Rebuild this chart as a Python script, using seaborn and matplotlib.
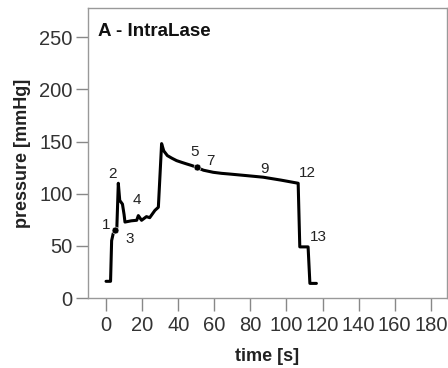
import matplotlib
matplotlib.use("Agg")
import matplotlib.pyplot as plt
import seaborn as sns

# data
time_s = [0, 2.5, 3.1, 4.0, 5.0, 6.0, 6.8, 7.6, 9.1, 10.0, 10.5, 14.0, 17.0, 17.9, 19.7, 22.4, 24.2, 27.1,
          29.0, 30.8, 32.0, 34.0, 36.5, 39.1, 42.0, 44.7, 47.5, 50.2, 54.0, 59.4, 64.0, 68.7, 78.0,
          87.1, 97.0, 106.5, 107.4, 112.0, 113.0, 116.6]
pressure = [16, 16, 55, 62, 65, 68, 110, 93.5, 90, 80, 72.8, 74, 74.5, 79, 74.5, 78, 77, 84,
            87, 148, 141, 136.5, 134, 131.7, 130, 128.5, 127, 125.3, 122.5, 120.5, 119.5, 118.8, 117.3,
            115.8, 113, 110, 49, 49, 14, 14]
dot_t = [5.0, 50.2]
dot_p = [65, 125.3]
ann_text = ["1", "2", "3", "4", "5", "7", "9", "12", "13"]
ann_t = [0.0, 3.5, 12.9, 17.0, 48.9, 57.6, 87.7, 111.7, 117.6]
ann_p = [70, 119, 57, 94, 139.6, 131.7, 123.7, 119.6, 58]
x_ticks = [0, 20, 40, 60, 80, 100, 120, 140, 160, 180]
y_ticks = [0, 50, 100, 150, 200, 250]

sns.set_style("white")
plt.rcParams["font.family"] = ["Liberation Sans", "DejaVu Sans"]

fig = plt.figure(figsize=(4.48, 3.68), dpi=100)
ax = fig.add_axes([88 / 448, 70 / 368, 359 / 448, 290 / 368])

sns.lineplot(x=time_s, y=pressure, sort=False, estimator=None, color="black", linewidth=2.2, ax=ax)
sns.scatterplot(x=dot_t, y=dot_p, color="black", s=25, ax=ax, zorder=3)

for txt, t, p in zip(ann_text, ann_t, ann_p):
    ax.text(t, p, txt, fontsize=11, ha="center", va="center", color="#222222")

ax.text(0.028, 0.92, "A - IntraLase", transform=ax.transAxes, fontsize=13.5,
        fontweight="bold", ha="left", va="center", color="#111111")

ax.set_xlim(-10, 189)
ax.set_ylim(0, 278)
ax.set_xticks(x_ticks)
ax.set_yticks(y_ticks)
ax.tick_params(axis="both", direction="out", length=9, width=1, color="#888888",
               labelsize=14.5, labelcolor="#333333", pad=2, bottom=True, left=True)
ax.tick_params(axis="x", pad=4)
for s in ax.spines.values():
    s.set_color("#999999")
    s.set_linewidth(1)
ax.set_xlabel("time [s]", fontsize=13, fontweight="bold", color="#222222", labelpad=9)
ax.set_ylabel("pressure [mmHg]", fontsize=13, fontweight="bold", color="#222222", labelpad=6)

fig.savefig("out.png", dpi=100)
